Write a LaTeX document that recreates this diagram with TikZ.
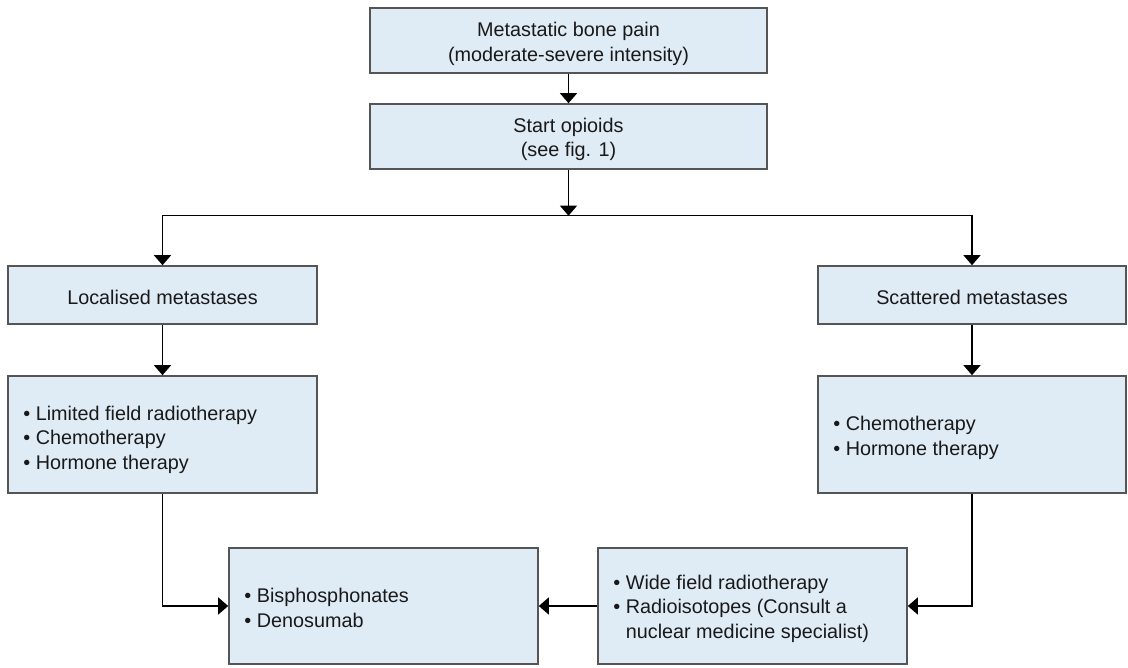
\documentclass[tikz,border=0pt]{standalone}
\usepackage{fontspec}
\setmainfont{Liberation Sans}
\usetikzlibrary{arrows.meta}
\definecolor{boxfill}{RGB}{223,235,245}
\definecolor{boxline}{RGB}{85,85,85}
\definecolor{txt}{RGB}{25,25,25}
\tikzset{
  box/.style={draw=boxline, line width=1.6pt, fill=boxfill, rectangle, inner sep=0pt},
  lab/.style={text=txt, font=\fontsize{19.8}{24.5}\selectfont, inner sep=0pt},
  clab/.style={lab, align=center},
  llab/.style={lab, align=left},
  arr/.style={line width=1.3pt, draw=black, -{Triangle[width=17pt,length=10pt]}},
}
\begin{document}
\begin{tikzpicture}[x=1pt,y=-1pt]
\useasboundingbox (0,0) rectangle (1128,668);
% boxes
\node[box, minimum width=397pt, minimum height=65pt] (top) at (568.5,40.5) {};
\node[box, minimum width=397pt, minimum height=65pt] (op) at (568.5,136.5) {};
\node[box, minimum width=309pt, minimum height=58pt] (loc) at (162.5,295) {};
\node[box, minimum width=308pt, minimum height=58pt] (sca) at (972,295) {};
\node[box, minimum width=309pt, minimum height=117pt] (ll) at (162.5,434.5) {};
\node[box, minimum width=308pt, minimum height=117pt] (lr) at (972,434.5) {};
\node[box, minimum width=309pt, minimum height=116pt] (bis) at (383.5,606) {};
\node[box, minimum width=309pt, minimum height=116pt] (wide) at (752.5,606) {};
% texts
\node[clab] (topt) at ([yshift=-3.5pt]top.center) {Metastatic bone pain\\(moderate-severe intensity)};
\node[clab] (opt) at ([yshift=-3pt]op.center) {Start opioids\\(see fig. 1)};
\node[clab] (loct) at ([yshift=-2pt]loc.center) {Localised metastases};
\node[clab] (scat) at ([yshift=-2pt]sca.center) {Scattered metastases};
\node[llab, anchor=west] (llt) at ([xshift=16pt,yshift=-5pt]ll.west)
  {• Limited field radiotherapy\\• Chemotherapy\\• Hormone therapy};
\node[llab, anchor=west] (lrt) at ([xshift=16pt,yshift=-3.5pt]lr.west)
  {• Chemotherapy\\• Hormone therapy};
\node[llab, anchor=west] (bist) at ([xshift=16pt,yshift=-2pt]bis.west)
  {• Bisphosphonates\\• Denosumab};
\node[llab, anchor=west] (widet) at ([xshift=16pt,yshift=-2.5pt]wide.west)
  {• Wide field radiotherapy\\• Radioisotopes (Consult a\\\phantom{• }nuclear medicine specialist)};
% connectors
\coordinate (j) at (568.5,215.7);
\draw[arr] (top.south) -- (op.north);
\draw[arr] (op.south) -- (j);
\draw[arr] (j) -| (loc.north);
\draw[arr] (j) -| (sca.north);
\draw[arr] (loc.south) -- (ll.north);
\draw[arr] (sca.south) -- (lr.north);
\draw[arr] (ll.south) |- (bis.west);
\draw[arr] (lr.south) |- (wide.east);
\draw[arr] (wide.west) -- (bis.east);
\end{tikzpicture}
\end{document}
